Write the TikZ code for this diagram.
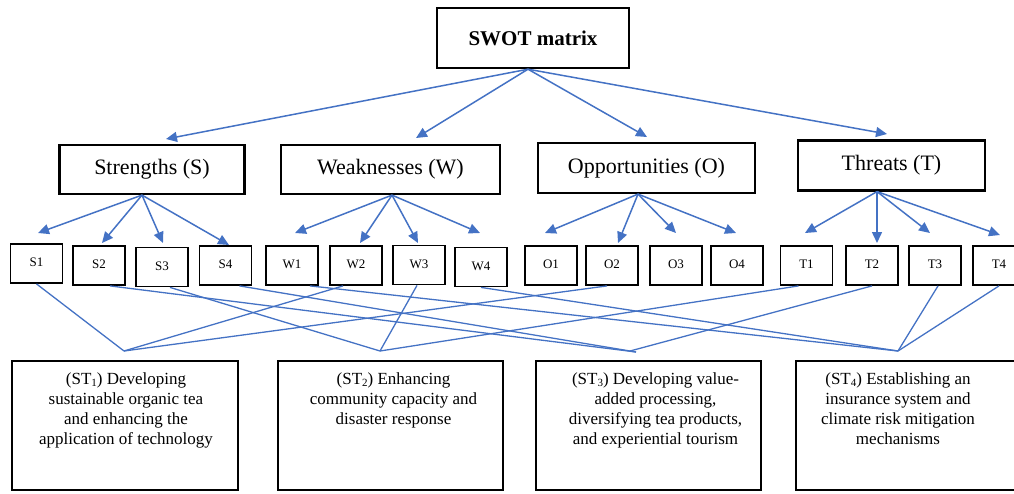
\documentclass[tikz,border=0pt]{standalone}
\usepackage{fontspec}
\setmainfont{Liberation Serif}
\usetikzlibrary{arrows.meta,calc}
\definecolor{lnblue}{HTML}{4472C4}
\newcommand\sbsc[1]{\raisebox{-0.08em}{\fontsize{11}{11}\selectfont #1}}
\begin{document}
\begin{tikzpicture}[x=1pt,y=-1pt,
 topbox/.style={draw,line width=2.4pt,minimum width=192pt,minimum height=60pt,inner sep=0pt,font=\fontsize{21}{24}\selectfont\bfseries},
 catbox/.style={draw,line width=2.2pt,minimum height=49pt,inner sep=0pt,font=\fontsize{22}{24}\selectfont},
 itembox/.style={draw,line width=1.8pt,minimum width=52pt,minimum height=39pt,inner sep=0pt,font=\fontsize{13}{15}\selectfont},
 stbox/.style={draw,line width=1.4pt,minimum height=129pt,inner sep=0pt},
 sttext/.style={anchor=north,align=center,inner sep=0pt,font=\fontsize{17}{20}\selectfont},
 arr/.style={draw=lnblue,line width=1.5pt,-{Triangle[length=11pt,width=10pt]}},
 lnk/.style={draw=lnblue,line width=1.3pt},
]
\useasboundingbox (0,0) rectangle (1014,493);

% top and category boxes
\node[topbox] (swot) at (533,38) {SWOT matrix};
\node[catbox,minimum width=185pt] (S) at (152,169.5) {Strengths (S)};
\node[catbox,minimum width=219pt] (W) at (390.5,169.5) {Weaknesses (W)};
\node[catbox,minimum width=217pt,minimum height=50pt] (O) at (646.5,168) {Opportunities (O)};
\node[catbox,minimum width=187pt,minimum height=50pt] (T) at (891.5,165.5) {Threats (T)};

% item boxes
\foreach \n/\x/\y in {S1/36.5/263.5, S2/99/265.5, S3/162/267, S4/225.5/265.5,
  W1/292/265.5, W2/356/265.5, W3/419/265, W4/481/267,
  O1/551/265.5, O2/612/265.5, O3/676/265.5, O4/737/265.5,
  T1/806.5/265.5, T2/872/265.5, T3/935/265.5, T4/999/265.5}
  \node[itembox] (\n) at (\x,\y) {\raisebox{2pt}{\n}};

% strategy boxes
\node[stbox,minimum width=226pt] (ST1) at (125,425.5) {};
\node[stbox,minimum width=225pt] (ST2) at (390.5,425.5) {};
\node[stbox,minimum width=225pt] (ST3) at (648.5,425.5) {};
\node[stbox,minimum width=234pt] (ST4) at (913,425.5) {};
\node[sttext] (tx1) at ([xshift=1pt,yshift=-12.5pt]ST1.north) {(ST\sbsc{1}) Developing\\sustainable organic tea\\and enhancing the\\application of technology};
\node[sttext] (tx2) at ([xshift=3pt,yshift=-12.5pt]ST2.north) {(ST\sbsc{2}) Enhancing\\community capacity and\\disaster response};
\node[sttext] (tx3) at ([xshift=7pt,yshift=-12.5pt]ST3.north) {(ST\sbsc{3}) Developing value-\\added processing,\\diversifying tea products,\\and experiential tourism};
\node[sttext] (tx4) at ([xshift=-15pt,yshift=-12.5pt]ST4.north) {(ST\sbsc{4}) Establishing an\\insurance system and\\climate risk mitigation\\mechanisms};

% arrows from SWOT matrix
\coordinate (swo) at ([xshift=-5pt]swot.south);
\coordinate (tS) at (166,139);
\coordinate (tW) at (416,138);
\coordinate (tO) at (647,137);
\coordinate (tT) at (887,134);
\foreach \c in {S,W,O,T} \draw[arr] (swo) -- (t\c);

% arrows from categories
\coordinate (oS) at ([xshift=-10pt]S.south);
\coordinate (oW) at ([xshift=1.5pt]W.south);
\coordinate (oO) at ([xshift=-8.5pt]O.south);
\coordinate (oT) at ([xshift=-14.5pt]T.south);
\foreach \n/\x/\y in {S1/38/233, S2/102/243, S3/163/243, S4/229/245,
  W1/295/233, W2/360/243, W3/418/243, W4/480/233,
  O1/545/233, O2/618/243, O3/676/233, O4/736/233,
  T1/805/233, T2/877/243, T3/930/233, T4/1000/235}
  \coordinate (a\n) at (\x,\y);
\foreach \n in {S1,S2,S3,S4} \draw[arr] (oS) -- (a\n);
\foreach \n in {W1,W2,W3,W4} \draw[arr] (oW) -- (a\n);
\foreach \n in {O1,O2,O3,O4} \draw[arr] (oO) -- (a\n);
\foreach \n in {T1,T2,T3,T4} \draw[arr] (oT) -- (a\n);

% links to strategies
\coordinate (P1) at (124,351);
\coordinate (P2) at (380,351);
\coordinate (P3) at (630,351);
\coordinate (P3b) at (636,352);
\coordinate (P4) at (898,351);
\draw[lnk] (S1.south) -- (P1);
\draw[lnk] ([xshift=-13pt]W2.south) -- (P1);
\draw[lnk] ([xshift=-5pt]O2.south) -- (P1);
\draw[lnk] ([xshift=8pt]S3.south) -- (P2);
\draw[lnk] ([xshift=-2pt]W3.south) -- (P2);
\draw[lnk] ([xshift=-8pt]T1.south) -- (P2);
\draw[lnk] ([xshift=11pt]S2.south) -- (P3b);
\draw[lnk] ([xshift=14pt]S4.south) -- (P3b);
\draw[lnk] (T2.south) -- (P3);
\draw[lnk] ([xshift=18pt]W1.south) -- (P4);
\draw[lnk] (W4.south) -- (P4);
\draw[lnk] ([xshift=3pt]T3.south) -- (P4);
\draw[lnk] (T4.south) -- (P4);
\end{tikzpicture}
\end{document}
